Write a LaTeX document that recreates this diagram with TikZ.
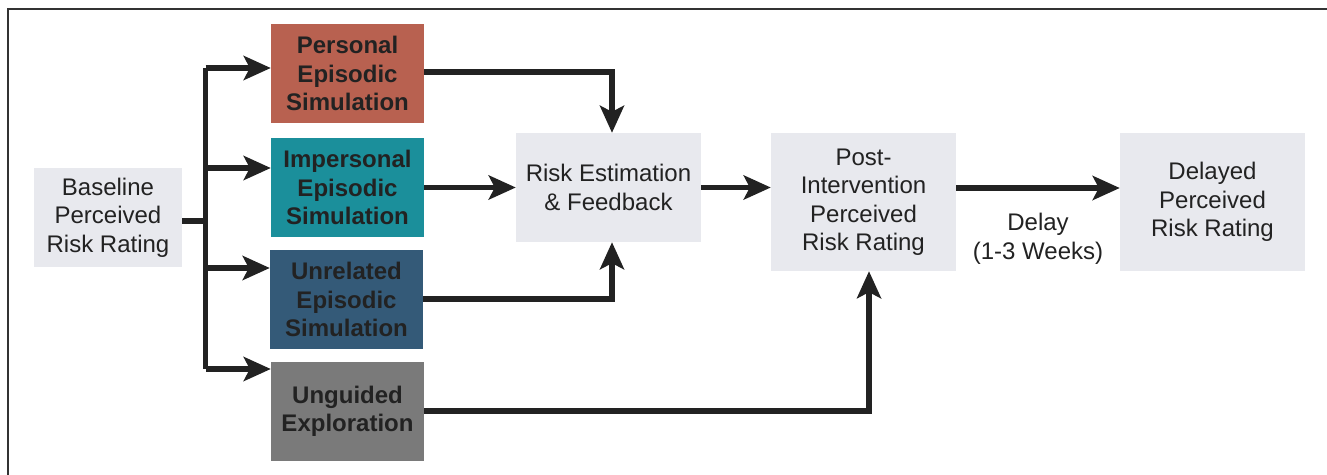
\documentclass[tikz,border=0pt]{standalone}
\usepackage{fontspec}
\setmainfont{Liberation Sans}
\usetikzlibrary{arrows.meta}
\definecolor{txt}{HTML}{222222}
\definecolor{boxgray}{HTML}{E8E9EE}
\definecolor{cPers}{HTML}{B86150}
\definecolor{cImp}{HTML}{1B8F9B}
\definecolor{cUnr}{HTML}{345A78}
\definecolor{cUng}{HTML}{7A7A7A}
\definecolor{frame}{HTML}{333333}
\tikzset{
  lbox/.style={fill=boxgray, draw=none, text=txt, align=center, inner sep=0pt,
    font=\fontsize{24}{28.5}\selectfont},
  cbox/.style={draw=none, text=txt, align=center, inner sep=0pt,
    minimum width=153pt, minimum height=99pt,
    font=\fontsize{24}{28.5}\selectfont\bfseries},
  conn/.style={draw=txt, line width=5.5pt, line join=miter},
  arr/.style={conn, -{Stealth[length=27pt, width=24pt, inset=6pt]}},
  lbl/.style={text=txt, align=center, inner sep=0pt, font=\fontsize{24}{28.5}\selectfont}
}
\begin{document}
\begin{tikzpicture}[x=1pt, y=-1pt]
\useasboundingbox (0,0) rectangle (1327,474);
\fill[white] (0,0) rectangle (1327,474);
% frame
\draw[frame, line width=2.2pt] (8,480) -- (8,9) -- (1335,9);

% nodes
\node[lbox, minimum width=148pt, minimum height=99pt] (base) at (108,217.5) {Baseline\\Perceived\\Risk Rating};
\node[cbox, fill=cPers] (pers) at (347.5,73.5) {Personal\\Episodic\\Simulation};
\node[cbox, fill=cImp] (imp) at (347.5,187.5) {Impersonal\\Episodic\\Simulation};
\node[cbox, fill=cUnr] (unr) at (346.5,299.5) {Unrelated\\Episodic\\Simulation};
\node[cbox, fill=cUng] (ung) at (347.5,411.5) {Unguided\\Exploration};
\node[lbox, minimum width=185pt, minimum height=109pt] (risk) at (608.5,187.5) {Risk Estimation\\\& Feedback};
\node[lbox, minimum width=185pt, minimum height=138pt] (post) at (863.5,202) {Post-\\Intervention\\Perceived\\Risk Rating};
\node[lbox, minimum width=185pt, minimum height=138pt] (del) at (1212.5,202) {Delayed\\Perceived\\Risk Rating};
\node[lbl] (delay) at (1038,239) {Delay\\(1-3 Weeks)};

% coordinates
\coordinate (j) at (205.5,221);
\coordinate (t1) at (205.5,68);
\coordinate (t2) at (205.5,168);
\coordinate (t3) at (205.5,268);
\coordinate (t4) at (205.5,369);
\coordinate (p1) at (612,72);
\coordinate (u1) at (612,299);
\coordinate (g1) at (869,411);
\coordinate (d1) at (956,188);

% connectors
\draw[conn] (base.east |- j) -- (j);
\draw[conn] (t1) -- (t4);
\draw[arr] (t1) -- (pers.west |- t1);
\draw[arr] (t2) -- (imp.west |- t2);
\draw[arr] (t3) -- (unr.west |- t3);
\draw[arr] (t4) -- (ung.west |- t4);
\draw[arr] (pers.east |- p1) -- (p1) -- (p1 |- risk.north);
\draw[arr] (imp.east) -- (risk.west);
\draw[arr] (unr.east |- u1) -- (u1) -- (u1 |- risk.south);
\draw[arr] (risk.east) -- (post.west |- risk.east);
\draw[arr] (ung.east |- g1) -- (g1) -- (g1 |- post.south);
\draw[arr] (post.east |- d1) -- (del.west |- d1);
\end{tikzpicture}
\end{document}
